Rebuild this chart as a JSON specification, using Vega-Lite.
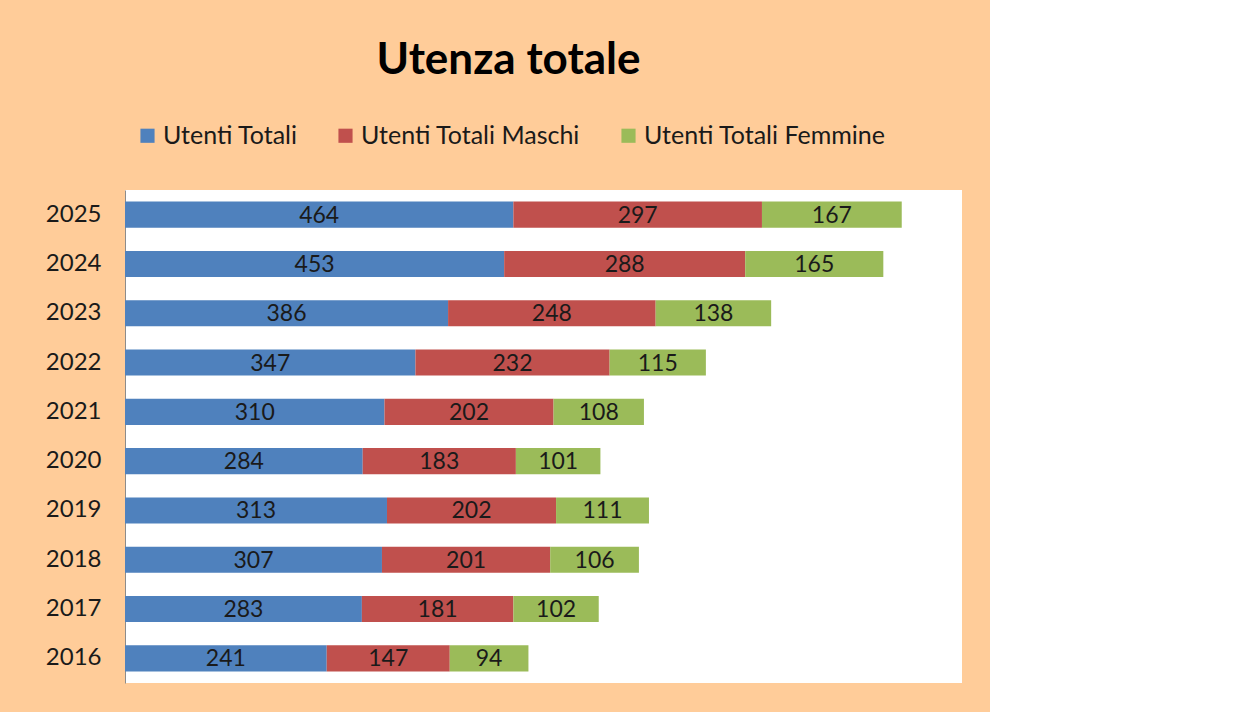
{
  "$schema": "https://vega.github.io/schema/vega-lite/v6.json",
  "autosize": {"type": "none"},
  "padding": {"top": 190, "left": 125, "right": 28, "bottom": 29},
  "width": 837,
  "height": 493,
  "background": "#FFCC99",
  "title": {
    "text": "Utenza totale",
    "font": "Lato",
    "fontSize": 44,
    "fontWeight": "bold",
    "color": "#000000",
    "anchor": "middle",
    "frame": "group",
    "dx": -35,
    "offset": 40
  },
  "data": {
    "values": [
      {"anno": "2016", "Utenti Totali": 241, "Utenti Totali Maschi": 147, "Utenti Totali Femmine": 94},
      {"anno": "2017", "Utenti Totali": 283, "Utenti Totali Maschi": 181, "Utenti Totali Femmine": 102},
      {"anno": "2018", "Utenti Totali": 307, "Utenti Totali Maschi": 201, "Utenti Totali Femmine": 106},
      {"anno": "2019", "Utenti Totali": 313, "Utenti Totali Maschi": 202, "Utenti Totali Femmine": 111},
      {"anno": "2020", "Utenti Totali": 284, "Utenti Totali Maschi": 183, "Utenti Totali Femmine": 101},
      {"anno": "2021", "Utenti Totali": 310, "Utenti Totali Maschi": 202, "Utenti Totali Femmine": 108},
      {"anno": "2022", "Utenti Totali": 347, "Utenti Totali Maschi": 232, "Utenti Totali Femmine": 115},
      {"anno": "2023", "Utenti Totali": 386, "Utenti Totali Maschi": 248, "Utenti Totali Femmine": 138},
      {"anno": "2024", "Utenti Totali": 453, "Utenti Totali Maschi": 288, "Utenti Totali Femmine": 165},
      {"anno": "2025", "Utenti Totali": 464, "Utenti Totali Maschi": 297, "Utenti Totali Femmine": 167}
    ]
  },
  "transform": [
    {"fold": ["Utenti Totali", "Utenti Totali Maschi", "Utenti Totali Femmine"], "as": ["serie", "valore"]},
    {"stack": "valore", "groupby": ["anno"], "as": ["v0", "v1"]},
    {"calculate": "(datum.v0 + datum.v1) / 2", "as": "centro"}
  ],
  "encoding": {
    "y": {
      "field": "anno",
      "type": "ordinal",
      "sort": "descending",
      "scale": {"paddingInner": 0.47, "paddingOuter": 0.235},
      "axis": {
        "title": null,
        "ticks": false,
        "labelPadding": 24,
        "labelFont": "Lato",
        "labelFontSize": 24,
        "labelColor": "#1a1a1a",
        "domainColor": "#8c8c8c",
        "domainWidth": 1
      }
    }
  },
  "layer": [
    {
      "mark": {"type": "bar"},
      "encoding": {
        "x": {"field": "v0", "type": "quantitative", "scale": {"domain": [0, 1000], "nice": false}, "axis": null},
        "x2": {"field": "v1"},
        "color": {
          "field": "serie",
          "type": "nominal",
          "scale": {
            "domain": ["Utenti Totali", "Utenti Totali Maschi", "Utenti Totali Femmine"],
            "range": ["#4F81BD", "#C0504D", "#9BBB59"]
          },
          "legend": {
            "title": null,
            "orient": "none",
            "direction": "horizontal",
            "legendX": 10,
            "legendY": -67,
            "padding": 0,
            "symbolType": "square",
            "symbolSize": 200,
            "symbolStrokeWidth": 0,
            "symbolOpacity": 1,
            "labelFont": "Lato",
            "labelFontSize": 25,
            "labelColor": "#1a1a1a",
            "labelOffset": 3,
            "columnPadding": 35,
            "labelLimit": 400
          }
        }
      }
    },
    {
      "mark": {"type": "text", "font": "Lato", "fontSize": 23, "color": "#1a1a1a", "baseline": "middle", "align": "center", "dy": 1},
      "encoding": {
        "x": {"field": "centro", "type": "quantitative"},
        "text": {"field": "valore", "type": "quantitative"}
      }
    }
  ],
  "config": {
    "view": {"fill": "#FFFFFF", "stroke": null},
    "axis": {"grid": false}
  }
}
